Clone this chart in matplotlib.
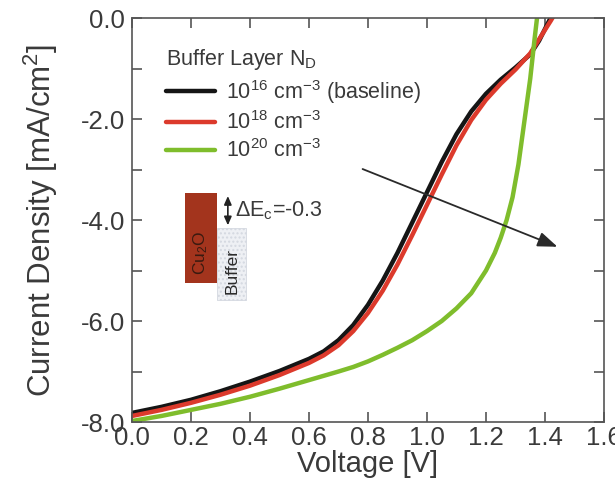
import matplotlib
matplotlib.use("Agg")
import matplotlib.pyplot as plt
from matplotlib.patches import Rectangle
from matplotlib.ticker import MultipleLocator

plt.rcParams["font.family"] = ["Liberation Sans", "DejaVu Sans"]
plt.rcParams["mathtext.fontset"] = "custom"
plt.rcParams["mathtext.rm"] = "Liberation Sans"
plt.rcParams["mathtext.it"] = "Liberation Sans"

# J-V curves (V in volts, J in mA/cm^2)
v_base = [0.0, 0.1, 0.2, 0.3, 0.4, 0.5, 0.6, 0.65, 0.7, 0.75, 0.8, 0.85, 0.9,
          0.95, 1.0, 1.05, 1.1, 1.15, 1.2, 1.25, 1.3, 1.35, 1.38, 1.41, 1.45]
j_base = [-7.82, -7.7, -7.56, -7.39, -7.2, -6.99, -6.75, -6.6, -6.38, -6.08,
          -5.68, -5.2, -4.65, -4.05, -3.45, -2.85, -2.3, -1.85, -1.5, -1.22,
          -0.98, -0.72, -0.45, -0.1, 0.35]

v_18 = [0.0, 0.1, 0.2, 0.3, 0.4, 0.5, 0.6, 0.65, 0.7, 0.75, 0.8, 0.85, 0.9,
        0.95, 1.0, 1.05, 1.1, 1.15, 1.2, 1.25, 1.3, 1.35, 1.38, 1.42, 1.46]
j_18 = [-7.88, -7.76, -7.62, -7.46, -7.28, -7.07, -6.83, -6.68, -6.48, -6.2,
        -5.84, -5.4, -4.88, -4.3, -3.7, -3.1, -2.52, -2.02, -1.62, -1.3,
        -1.02, -0.7, -0.42, -0.05, 0.35]

v_20 = [0.0, 0.1, 0.2, 0.3, 0.4, 0.5, 0.6, 0.7, 0.75, 0.8, 0.85, 0.9, 0.95,
        1.0, 1.05, 1.1, 1.15, 1.2, 1.23, 1.25, 1.27, 1.29, 1.31, 1.33, 1.35,
        1.365, 1.375, 1.385]
j_20 = [-7.98, -7.88, -7.76, -7.64, -7.5, -7.34, -7.17, -7.0, -6.91, -6.8,
        -6.67, -6.53, -6.38, -6.2, -6.0, -5.75, -5.45, -5.0, -4.65, -4.35,
        -4.0, -3.55, -2.9, -2.05, -1.2, -0.4, 0.1, 0.5]

labels = [r"10$^{16}$ cm$^{-3}$ (baseline)", r"10$^{18}$ cm$^{-3}$",
          r"10$^{20}$ cm$^{-3}$"]
colors = ["#151515", "#dc3a2c", "#7fbd2c"]

# trend arrow (start -> end, data units)
arrow_start = (0.773, -2.97)
arrow_end = (1.451, -4.55)

fig = plt.figure(figsize=(6.15, 4.91), dpi=100)
ax = fig.add_axes([0.2146, 0.1405, 0.7675, 0.8228])

for v, j, lab, c in zip([v_base, v_18, v_20], [j_base, j_18, j_20], labels, colors):
    ax.plot(v, j, color=c, lw=3.2, label=lab, solid_capstyle="round",
            solid_joinstyle="round")

ax.set_xlim(0.0, 1.6)
ax.set_ylim(-8.0, 0.0)
ax.xaxis.set_major_locator(MultipleLocator(0.2))
ax.yaxis.set_major_locator(MultipleLocator(2.0))
ax.yaxis.set_minor_locator(MultipleLocator(1.0))
ax.xaxis.set_major_formatter(plt.FormatStrFormatter("%.1f"))
ax.yaxis.set_major_formatter(plt.FormatStrFormatter("%.1f"))

txt = "#3a3a3a"
for s in ax.spines.values():
    s.set_color("#555555")
    s.set_linewidth(1.2)
ax.tick_params(which="both", direction="in", top=True, right=True,
               colors="#555555", labelcolor=txt, labelsize=18.5, width=1.2)
ax.tick_params(which="major", length=7, pad=5)
ax.tick_params(which="minor", length=7)
ax.tick_params(axis="x", pad=3)

ax.set_xlabel("Voltage [V]", fontsize=21, color=txt, labelpad=0)
ax.set_ylabel(r"Current Density [mA/cm$^2$]", fontsize=22.5, color=txt,
              labelpad=15)

leg = ax.legend(loc="upper left", bbox_to_anchor=(0.03, 0.975), frameon=False,
                fontsize=15.5, handlelength=2.3, handletextpad=0.5,
                labelspacing=0.25, title=r"Buffer Layer N$_D$",
                title_fontsize=15.5, labelcolor=txt)
leg.get_title().set_color(txt)
leg._legend_box.align = "left"

ax.annotate("", xy=arrow_end, xytext=arrow_start,
            arrowprops=dict(arrowstyle="-|>,head_length=1.2,head_width=0.45",
                            color="#2a2a2a", lw=1.3))

# band-offset inset
ax.add_patch(Rectangle((0.18, -5.25), 0.108, 1.78, facecolor="#a3341d",
                       edgecolor="none", zorder=3))
ax.add_patch(Rectangle((0.288, -5.58), 0.1, 1.42, facecolor="#eef0f4",
                       edgecolor="#d4d8e0", lw=0.6, hatch="....", zorder=3))
ax.text(0.234, -4.65, r"Cu$_2$O", rotation=90, ha="center", va="center",
        fontsize=12.5, color="#3a1a10", zorder=4)
ax.text(0.338, -5.0, "Buffer", rotation=90, ha="center", va="center",
        fontsize=12.5, color="#2a2a2a", zorder=4)
ax.annotate("", xy=(0.325, -3.47), xytext=(0.325, -4.16),
            arrowprops=dict(arrowstyle="<|-|>,head_length=0.5,head_width=0.22",
                            color="#222222", lw=1.2))
ax.text(0.35, -3.82, r"$\Delta$E$_c$=-0.3", ha="left", va="center",
        fontsize=15.5, color=txt)

fig.savefig("out.png", dpi=100)
